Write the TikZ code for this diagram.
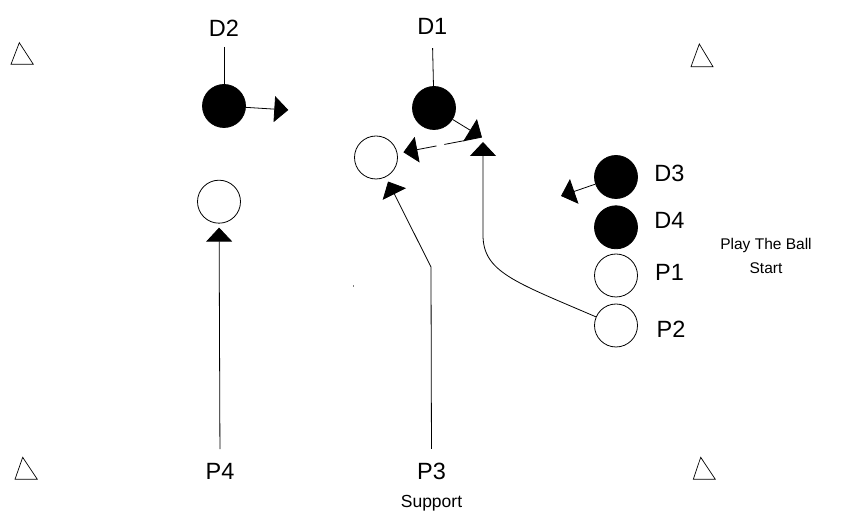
\documentclass[tikz,border=0pt]{standalone}
\usepackage{fontspec}
\setmainfont{Liberation Sans}
\usetikzlibrary{arrows.meta}
\begin{document}
\begin{tikzpicture}[x=1pt,y=-1pt,
  lw/.style={line width=0.8pt},
  player/.style={circle, draw, line width=0.8pt, minimum size=43pt, inner sep=0pt},
  defp/.style={player, fill=black},
  attp/.style={player, fill=white},
  lbl/.style={font=\fontsize{23.5}{28}\selectfont, inner sep=0pt, anchor=base},
  note/.style={font=\fontsize{15.5}{20}\selectfont, inner sep=0pt, anchor=base},
  cone/.style={draw, line width=0.7pt},
  arr/.style={line width=0.8pt, -{Triangle[length=14pt,width=26pt]}},
]
\useasboundingbox (0,0) rectangle (847,518);
\fill[white] (0,0) rectangle (847,518);

% cones
\draw[cone] (19.3,42.7) -- (33.3,64.3) -- (11,64.3) -- cycle;
\draw[cone] (699.3,44) -- (713,66.7) -- (691,66.7) -- cycle;
\draw[cone] (22.7,457.3) -- (37.3,479.3) -- (15,479.3) -- cycle;
\draw[cone] (700.7,457.3) -- (715.3,479.3) -- (693.3,479.3) -- cycle;

% players
\node[defp] (d2) at (224,106) {};
\node[defp] (d1) at (434,108) {};
\node[attp] (oc1) at (376,157.5) {};
\node[attp] (oc2) at (219,201.7) {};
\node[defp] (d3) at (616,177) {};
\node[defp] (d4) at (616,227.3) {};
\node[attp] (p1) at (616,275.5) {};
\node[attp] (p2) at (616,325.5) {};

% labels
\node[lbl] (d2l) at (224,36.7) {D2};
\node[lbl] (d1l) at (432.3,35) {D1};
\node[lbl] (d3l) at (669.5,181.7) {D3};
\node[lbl] (d4l) at (669.5,228.5) {D4};
\node[lbl] (p1l) at (669.5,281) {P1};
\node[lbl] (p2l) at (671,338) {P2};
\node[lbl] (p4l) at (220,479.5) {P4};
\node[lbl] (p3l) at (431.5,479.5) {P3};
\node[note, font=\fontsize{17.5}{20}\selectfont] (sup) at (431.5,508) {Support};
\node[note] (playl) at (766,249.5) {Play The Ball};
\node[note] (startl) at (766,273.5) {Start};

% label stems
\draw[lw, shorten <=10pt] (d2l.south) -- (d2);
\draw[lw, shorten <=13pt] (d1l.south) -- (d1);

% coordinates
\coordinate (d2t) at (288.3,110);
\coordinate (d1t) at (482,137.5);
\coordinate (ps) at (465,140.5);
\coordinate (d3t) at (561,196);
\coordinate (p3k) at (431,267);
\coordinate (p2k) at (483,235);
\coordinate (p2t) at (483,142);

% runs
\draw[arr] (d2) -- (d2t);
\draw[arr] (d1) -- (d1t);
\draw[arr] (d3) -- (d3t);
\draw[arr, dash pattern=on 21pt off 8pt, shorten >=6pt] (ps) -- (oc1);
\draw[arr, shorten <=14pt, shorten >=4pt] (p4l.north) -- (oc2);
\draw[arr, shorten <=14pt, shorten >=5pt] (p3l.north) -- (p3k) -- (oc1);
\draw[arr] (p2) .. controls (515,282) and (483,272) .. (p2k) -- (p2t);

% speck
\fill[gray] (352.5,285.5) rectangle (354,287);
\end{tikzpicture}
\end{document}
